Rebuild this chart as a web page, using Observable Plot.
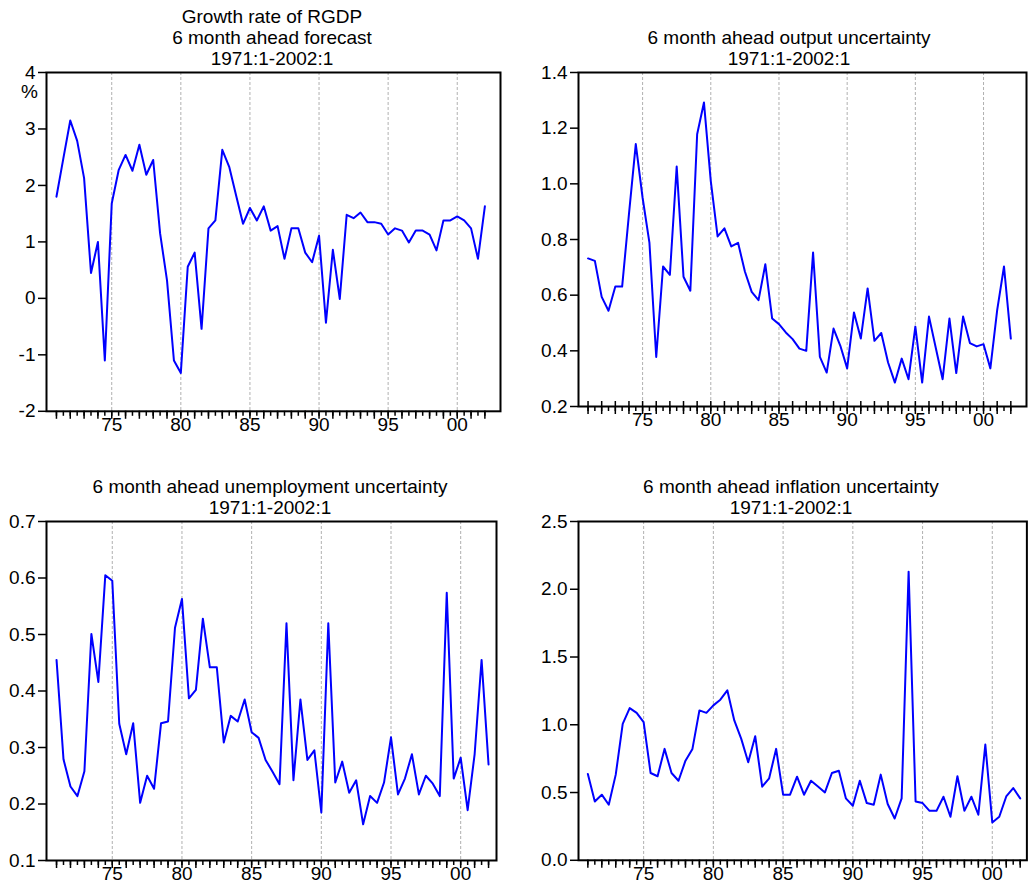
<!DOCTYPE html>
<html><head><meta charset="utf-8">
<script src="https://cdn.jsdelivr.net/npm/d3@7"></script>
<script src="https://cdn.jsdelivr.net/npm/@observablehq/plot@0.6"></script>
<style>
html,body{margin:0;padding:0;background:#fff;overflow:hidden;}
body{width:1028px;height:892px;position:relative;font-family:"Liberation Sans",Arial,Helvetica,sans-serif;color:#000;}
.title{position:absolute;font-size:19px;line-height:21px;text-align:center;white-space:nowrap;transform:translateX(-50%);}
.unit{position:absolute;font-size:19px;line-height:21px;}
</style></head><body>
<script>
// ---- data (semiannual, 1971:1 .. 2002:1) ----
const startYear = 1971, nObs = 63;
const periods = d3.range(nObs).map(i => startYear + i / 2);

const rgdpGrowth = [1.80,2.48,3.15,2.79,2.13,0.45,1.00,-1.10,1.68,2.27,2.54,2.26,2.72,2.19,2.45,1.15,0.32,-1.10,-1.32,0.56,0.81,-0.54,1.24,1.38,2.63,2.33,1.82,1.32,1.60,
  1.38,1.63,1.20,1.28,0.70,1.24,1.24,0.81,0.64,1.11,-0.43,0.86,-0.01,1.48,1.42,1.52,1.35,1.35,1.32,1.13,1.24,1.20,0.99,1.20,1.20,1.13,0.85,1.38,1.38,1.45,1.38,1.24,0.70,1.63];
const outputUnc = [0.732,0.723,0.594,0.544,0.631,0.631,0.891,1.143,0.95,0.789,0.378,0.703,0.673,1.062,0.666,0.616,1.178,1.292,1.01,0.811,0.840,0.775,0.788,0.685,0.612,0.582,0.711,0.516,0.496,
  0.466,0.442,0.408,0.400,0.753,0.378,0.322,0.480,0.418,0.337,0.538,0.444,0.624,0.436,0.464,0.358,0.286,0.372,0.298,0.487,0.286,0.523,0.41,0.298,0.516,0.320,0.523,0.428,0.416,0.424,0.337,0.546,0.703,0.444];
const unempUnc = [0.455,0.279,0.231,0.214,0.258,0.501,0.416,0.605,0.595,0.342,0.288,0.343,0.202,0.250,0.227,0.343,0.346,0.512,0.563,0.387,0.402,0.528,0.442,0.442,0.309,0.356,0.346,0.385,0.327,
  0.317,0.278,0.257,0.235,0.520,0.242,0.385,0.278,0.295,0.185,0.520,0.238,0.275,0.220,0.242,0.164,0.214,0.202,0.238,0.318,0.217,0.245,0.288,0.217,0.250,0.236,0.214,0.574,0.245,0.282,0.189,0.288,0.455,0.270];
const inflUnc = [0.637,0.434,0.484,0.410,0.632,1.007,1.123,1.088,1.019,0.644,0.620,0.822,0.644,0.587,0.735,0.822,1.106,1.088,1.143,1.185,1.254,1.032,0.896,0.723,0.916,0.543,0.605,0.822,0.484,
  0.484,0.617,0.484,0.587,0.545,0.501,0.644,0.661,0.457,0.402,0.587,0.422,0.410,0.632,0.415,0.308,0.457,2.13,0.434,0.422,0.365,0.365,0.469,0.321,0.620,0.365,0.469,0.336,0.854,0.279,0.321,0.471,0.533,0.457];

const gridYears = [1975,1980,1985,1990,1995,2000];
const xTickLabels = ["75","80","85","90","95","00"];
const halfTicks = d3.range(nObs).map(i => startYear + i / 2);
const yearTicks = halfTicks.filter(d => d % 1 === 0);

const yTicks1 = [-2,-1,0,1,2,3,4];
const yTicks2 = [0.2,0.4,0.6,0.8,1.0,1.2,1.4];
const yTicks3 = [0.1,0.2,0.3,0.4,0.5,0.6,0.7];
const yTicks4 = [0.0,0.5,1.0,1.5,2.0,2.5];

const titles1 = ["Growth rate of RGDP","6 month ahead forecast","1971:1-2002:1"];
const titles2 = ["6 month ahead output uncertainty","1971:1-2002:1"];
const titles3 = ["6 month ahead unemployment uncertainty","1971:1-2002:1"];
const titles4 = ["6 month ahead inflation uncertainty","1971:1-2002:1"];

// ---- layout ----
const FONT = '"Liberation Sans", Arial, Helvetica, sans-serif';
function addTitle(lines, cx, top) {
  const d = document.createElement("div");
  d.className = "title";
  d.style.left = cx + "px"; d.style.top = top + "px";
  d.innerHTML = lines.join("<br>");
  document.body.appendChild(d);
}
function panel(cfg) {
  const {values, yDomain, yTicks, yFmt, xDomain, frame, cross} = cfg;
  const mL = 46, mR = 2, mT = 8, mB = 36;
  const data = values.map((v, i) => ({t: periods[i], v}));
  const marks = [
    Plot.gridX(gridYears, {stroke: "#b0b0b0", strokeOpacity: 1, strokeWidth: 1, strokeDasharray: "3,2"}),
    Plot.axisX(halfTicks, {tickSize: 5, tickFormat: () => "", strokeWidth: 1.5}),
    Plot.axisX(yearTicks, {tickSize: 8, tickFormat: () => "", strokeWidth: 1.5}),
    Plot.axisX(gridYears, {tickSize: 0, tickPadding: 6, fontSize: 19, tickFormat: d => xTickLabels[gridYears.indexOf(d)]}),
    Plot.axisY(yTicks, {tickSize: 8, tickPadding: 3, fontSize: 19, strokeWidth: 1.5, tickFormat: yFmt}),
    Plot.line(data, {x: "t", y: "v", stroke: "#0000ff", strokeWidth: 2}),
    Plot.frame({stroke: "#000", strokeWidth: 2})
  ];
  if (cross) marks.splice(3, 0, Plot.axisX(yearTicks, {tickSize: -5, tickFormat: () => "", strokeWidth: 1.5}));
  const svg = Plot.plot({
    width: frame.r - frame.l + mL + mR,
    height: frame.b - frame.t + mT + mB,
    marginLeft: mL, marginRight: mR, marginTop: mT, marginBottom: mB,
    style: {fontFamily: FONT, fontSize: "19px", color: "#000", background: "transparent", overflow: "visible"},
    x: {domain: xDomain, label: null},
    y: {domain: yDomain, label: null},
    marks
  });
  svg.style.position = "absolute";
  svg.style.left = (frame.l - mL) + "px";
  svg.style.top = (frame.t - mT) + "px";
  document.body.appendChild(svg);
}

panel({values: rgdpGrowth, yDomain: [-2, 4], yTicks: yTicks1, yFmt: d => String(d),
  xDomain: [1970.28, 2003.13], frame: {l: 46, t: 71.7, r: 500, b: 410.5}});
panel({values: outputUnc, yDomain: [0.2, 1.4], yTicks: yTicks2, yFmt: d => d.toFixed(1),
  xDomain: [1970.3, 2003.15], frame: {l: 577.7, t: 71.7, r: 1025.7, b: 405.7}, cross: true});
panel({values: unempUnc, yDomain: [0.1, 0.7], yTicks: yTicks3, yFmt: d => d.toFixed(1),
  xDomain: [1970.28, 2002.57], frame: {l: 45.7, t: 521, r: 495.7, b: 860}});
panel({values: inflUnc, yDomain: [0, 2.5], yTicks: yTicks4, yFmt: d => d.toFixed(1),
  xDomain: [1970.33, 2002.48], frame: {l: 578.3, t: 520.5, r: 1026.7, b: 859.3}});

addTitle(titles1, 272, 5.5);
addTitle(titles2, 789, 27);
addTitle(titles3, 270, 475.5);
addTitle(titles4, 791, 475.5);

const unit = document.createElement("div");
unit.className = "unit"; unit.textContent = "%";
unit.style.left = "21px"; unit.style.top = "81px";
document.body.appendChild(unit);
</script>
</body></html>
